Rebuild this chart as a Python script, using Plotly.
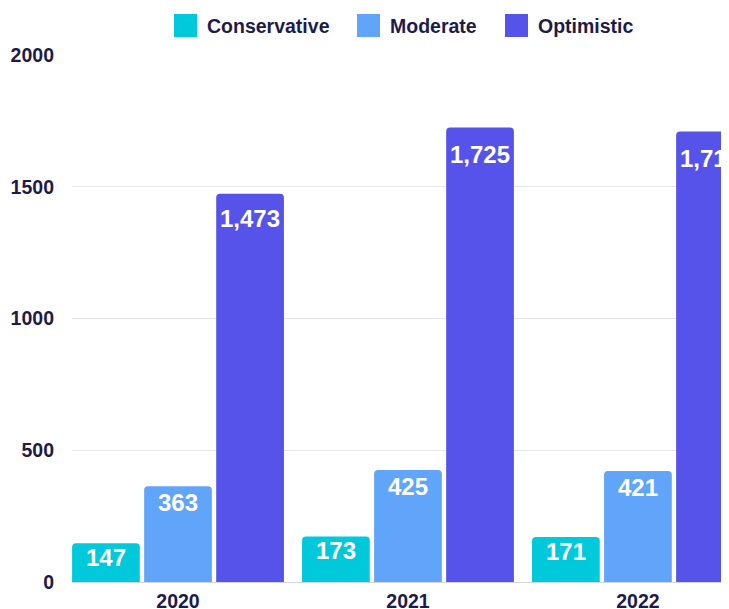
import plotly.graph_objects as go

years = ["2020", "2021", "2022"]
series_names = ["Conservative", "Moderate", "Optimistic"]
conservative = [147, 173, 171]
moderate = [363, 425, 421]
optimistic = [1473, 1725, 1710]
series_values = [conservative, moderate, optimistic]
colors = ["#00C9DB", "#60A5FA", "#5553E9"]
y_ticks = [0, 500, 1000, 1500, 2000]

TEXT = "#1E1B4B"
FONT = "Arial, Liberation Sans, sans-serif"

OFF = 8  # default page body margin
W, H = 729 - OFF, 609 - OFF
ML, MR, MT, MB = 72 - OFF, 0, 55 - OFF, 27
PW = W - ML - MR
PH = H - MT - MB

X0, X1 = -0.461, 2.396
BARGAP = 0.06
cat_px = PW / (X1 - X0)
slot_px = cat_px * (1 - BARGAP) / len(series_names)

fig = go.Figure()
annotations = []
for i, (name, vals, col) in enumerate(zip(series_names, series_values, colors)):
    fig.add_trace(go.Bar(
        x=years, y=vals, name=name, marker=dict(color=col, line=dict(width=0)),
        showlegend=False, hoverinfo="x+y+name",
    ))
    shift = (i - (len(series_names) - 1) / 2) * slot_px
    for j, v in enumerate(vals):
        annotations.append(dict(
            xref="x", yref="y", x=j, y=v * 0.97 - 50, xshift=shift,
            text=f"{v:,}", showarrow=False, xanchor="center", yanchor="middle",
            font=dict(size=24, color="white", family=FONT, weight=700)))

# custom legend (larger swatches); pixel positions in window coordinates
legend_px = [174, 357, 505]
shapes = []
for name, col, px in zip(series_names, colors, legend_px):
    fx = px - OFF
    shapes.append(dict(type="rect", xref="paper", yref="paper",
                       x0=(fx - ML) / PW, x1=(fx + 23 - ML) / PW,
                       y0=(H - MB - (37 - OFF)) / PH, y1=(H - MB - (14 - OFF)) / PH,
                       fillcolor=col, line=dict(width=0)))
    annotations.append(dict(xref="paper", yref="paper", x=(fx + 31 - ML) / PW,
                            y=(H - MB - (25.5 - OFF)) / PH, xanchor="left", yanchor="middle",
                            text=name, showarrow=False,
                            font=dict(size=19.5, color=TEXT, family=FONT, weight=700)))

fig.update_layout(
    width=W, height=H,
    margin=dict(l=ML, r=MR, t=MT, b=MB, pad=0, autoexpand=False),
    paper_bgcolor="white", plot_bgcolor="white",
    barmode="group", bargap=BARGAP, bargroupgap=0.06, barcornerradius=4,
    shapes=shapes, annotations=annotations,
    xaxis=dict(type="category", range=[X0, X1], showgrid=False, automargin=False,
               showline=True, linecolor="#D4D4DC", linewidth=1,
               tickfont=dict(size=19.5, color=TEXT, family=FONT, weight=700),
               ticks="", ticklabelstandoff=2),
    yaxis=dict(range=[0, 2000], tickvals=y_ticks, ticktext=[str(v) for v in y_ticks],
               showgrid=True, gridcolor="#E4E4EA", gridwidth=1, zeroline=False,
               automargin=False,
               tickfont=dict(size=19.5, color=TEXT, family=FONT, weight=700),
               ticks="", ticklabelstandoff=17),
)

fig.write_html("out.html")
